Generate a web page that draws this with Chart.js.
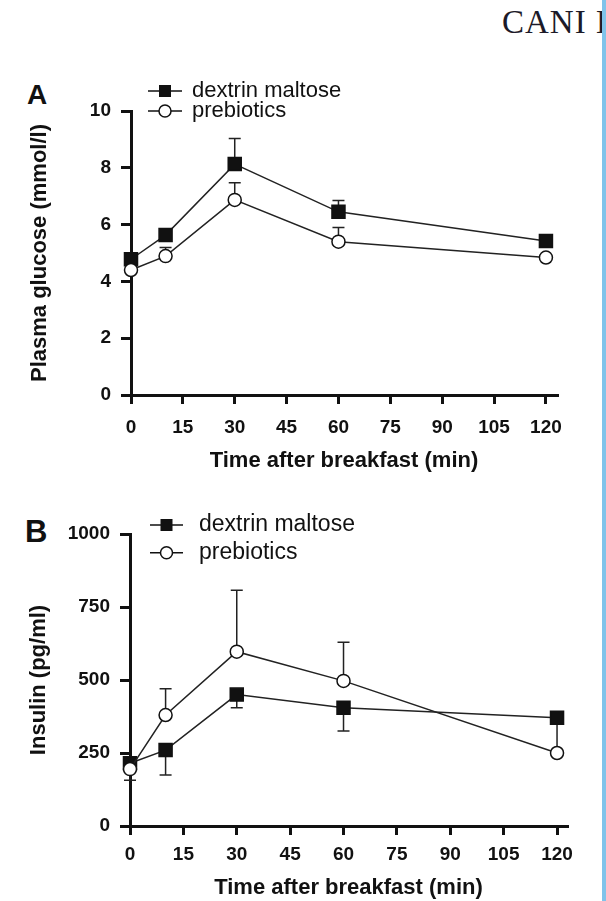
<!DOCTYPE html>
<html><head><meta charset="utf-8">
<script src="https://cdn.jsdelivr.net/npm/chart.js@4.4.1/dist/chart.umd.min.js"></script>
<style>
html,body{margin:0;padding:0;background:#fff;}
body{width:606px;height:901px;position:relative;overflow:hidden;}
canvas{position:absolute;left:0;display:block;}
#ca{top:0;} #cb{top:480px;}
.lbl{position:absolute;font-family:"Liberation Sans",Arial,sans-serif;font-weight:bold;color:#111;white-space:nowrap;}
#hdr{position:absolute;left:502px;top:6px;font-family:"Liberation Serif","Times New Roman",serif;font-size:33px;line-height:32px;letter-spacing:1px;color:#1c1a28;white-space:nowrap;}
#strip{position:absolute;left:602px;top:0;width:4px;height:901px;background:#80c3ea;}
</style></head>
<body>
<div id="hdr">CANI ET AL.</div>
<div class="lbl" style="left:27px;top:81px;font-size:28px;line-height:28px;">A</div>
<div class="lbl" style="left:25px;top:516px;font-size:31px;line-height:31px;">B</div>
<canvas id="ca" width="606" height="480"></canvas>
<canvas id="cb" width="606" height="421"></canvas>
<div id="strip"></div>
<script>
// ---- data ----
const timesMin = [0, 10, 30, 60, 120];
const seriesNames = ['dextrin maltose', 'prebiotics'];

const glucoseDextrin      = [4.78, 5.63, 8.13, 6.45, 5.42];
const glucoseDextrinErr   = [0.2, 0.15, 0.9, 0.4, 0.2];
const glucosePrebiotic    = [4.4, 4.89, 6.87, 5.4, 4.84];
const glucosePrebioticErr = [0.15, 0.3, 0.6, 0.5, 0.1];

const insulinDextrin      = [215, 260, 450, 405, 371];
const insulinDextrinErr   = [58, 85, 45, 80, 115];
const insulinPrebiotic    = [195, 380, 597, 497, 250];
const insulinPrebioticErr = [30, 90, 210, 132, 0];

const xTickLabels = [0, 15, 30, 45, 60, 75, 90, 105, 120];
const yTicksGlucose = [0, 2, 4, 6, 8, 10];
const yTicksInsulin = [0, 250, 500, 750, 1000];

const xTitle = 'Time after breakfast (min)';
const yTitleGlucose = 'Plasma glucose (mmol/l)';
const yTitleInsulin = 'Insulin (pg/ml)';

// ---- rendering ----
const FONT = '"Liberation Sans", Arial, sans-serif';
const INK = '#111';

const errorBars = {
  id: 'errorBars',
  beforeDatasetsDraw(chart) {
    const ctx = chart.ctx, xs = chart.scales.x, ys = chart.scales.y;
    ctx.save();
    chart.data.datasets.forEach(ds => {
      ctx.strokeStyle = '#222';
      ctx.lineWidth = 1.5;
      ds.data.forEach((p, i) => {
        const e = ds.errors[i];
        if (!e) return;
        const x = xs.getPixelForValue(p.x);
        const y0 = ys.getPixelForValue(p.y);
        const y1 = ys.getPixelForValue(p.y + ds.errDir * e);
        ctx.beginPath();
        ctx.moveTo(x, y0); ctx.lineTo(x, y1);
        ctx.moveTo(x - 6, y1); ctx.lineTo(x + 6, y1);
        ctx.stroke();
      });
    });
    ctx.restore();
  }
};

function drawMarker(ctx, style, x, y) {
  ctx.save();
  ctx.lineWidth = 1.5;
  ctx.strokeStyle = INK;
  if (style === 'rect') {
    ctx.fillStyle = INK;
    ctx.fillRect(x - 6, y - 6, 12, 12);
  } else {
    ctx.fillStyle = '#fff';
    ctx.beginPath(); ctx.arc(x, y, 6, 0, Math.PI * 2); ctx.fill(); ctx.stroke();
  }
  ctx.restore();
}

const lineLegend = {
  id: 'lineLegend',
  afterDraw(chart, args, opts) {
    const ctx = chart.ctx;
    ctx.save();
    chart.data.datasets.forEach((ds, i) => {
      const y = opts.y + i * opts.dy;
      ctx.strokeStyle = INK; ctx.lineWidth = 1.5;
      ctx.beginPath(); ctx.moveTo(opts.x, y); ctx.lineTo(opts.x + opts.len, y); ctx.stroke();
      drawMarker(ctx, ds.pointStyle, opts.x + opts.len / 2, y);
      ctx.fillStyle = INK;
      ctx.font = opts.size + 'px ' + FONT;
      ctx.textBaseline = 'middle';
      ctx.textAlign = 'left';
      ctx.fillText(ds.label, opts.textX, y);
    });
    ctx.restore();
  }
};

function makeDatasets(dex, dexErr, dexDir, pre, preErr, preDir) {
  const common = {
    borderColor: '#222', borderWidth: 1.5, clip: false, tension: 0,
    pointBorderColor: INK, pointBorderWidth: 1.5, pointHoverRadius: 0
  };
  return [
    Object.assign({}, common, {
      label: seriesNames[0], order: 1,
      data: timesMin.map((t, i) => ({x: t, y: dex[i]})),
      errors: dexErr, errDir: dexDir,
      pointStyle: 'rect', pointRadius: 9.2, pointBackgroundColor: INK
    }),
    Object.assign({}, common, {
      label: seriesNames[1], order: 0,
      data: timesMin.map((t, i) => ({x: t, y: pre[i]})),
      errors: preErr, errDir: preDir,
      pointStyle: 'circle', pointRadius: 6.5, pointBackgroundColor: '#fff'
    })
  ];
}

function makeChart(id, c) {
  const axisCommon = {
    grid: {display: true, drawOnChartArea: false, drawTicks: true, tickLength: 10, lineWidth: 3, color: INK},
    border: {display: true, width: 3, color: INK}
  };
  return new Chart(document.getElementById(id), {
    type: 'line',
    data: {datasets: c.datasets},
    options: {
      responsive: false, animation: false, devicePixelRatio: 1,
      events: [],
      layout: {padding: {left: 0, top: c.padTop, right: c.padRight, bottom: 0}},
      plugins: {
        legend: {display: false}, tooltip: {enabled: false},
        lineLegend: c.legend
      },
      scales: {
        x: Object.assign({}, axisCommon, {
          type: 'linear', min: 0, max: c.xMax,
          grid: Object.assign({}, axisCommon.grid, {tickLength: 9}),
          afterBuildTicks: s => { s.ticks = xTickLabels.map(v => ({value: v})); },
          afterFit: s => { s.height = c.xHeight; },
          ticks: {color: INK, font: {family: FONT, size: 19, weight: 'bold'}, padding: c.xTickPad,
                  maxRotation: 0, autoSkip: false, callback: v => String(v)},
          title: {display: true, text: xTitle, color: INK,
                  font: {family: FONT, size: 22, weight: 'bold'}, padding: {top: 0, bottom: c.xTitlePad}}
        }),
        y: Object.assign({}, axisCommon, {
          type: 'linear', min: 0, max: c.yMax,
          afterBuildTicks: s => { s.ticks = c.yTicks.map(v => ({value: v})); },
          afterFit: s => { s.width = c.yWidth; },
          ticks: {color: INK, font: {family: FONT, size: 19, weight: 'bold'}, padding: 10,
                  autoSkip: false, callback: v => String(v)},
          title: {display: true, text: c.yTitle, color: INK,
                  font: {family: FONT, size: 22, weight: 'bold'}, padding: {top: c.yTitlePad, bottom: 0}}
        })
      }
    },
    plugins: [errorBars, lineLegend]
  });
}

makeChart('ca', {
  datasets: makeDatasets(glucoseDextrin, glucoseDextrinErr, 1, glucosePrebiotic, glucosePrebioticErr, 1),
  padTop: 111, padRight: 49, xMax: 123.2, xHeight: 85, xTickPad: 12, xTitlePad: 6,
  yWidth: 131, yMax: 10, yTicks: yTicksGlucose, yTitle: yTitleGlucose, yTitlePad: 27,
  legend: {x: 148, len: 34, y: 91, dy: 20, textX: 192, size: 22}
});

makeChart('cb', {
  datasets: makeDatasets(insulinDextrin, insulinDextrinErr, -1, insulinPrebiotic, insulinPrebioticErr, 1),
  padTop: 54, padRight: 39, xMax: 122.8, xHeight: 75, xTickPad: 8, xTitlePad: 0,
  yWidth: 130, yMax: 1000, yTicks: yTicksInsulin, yTitle: yTitleInsulin, yTitlePad: 26,
  legend: {x: 150, len: 33, y: 45, dy: 27.7, textX: 199, size: 23}
});
</script>
</body></html>
